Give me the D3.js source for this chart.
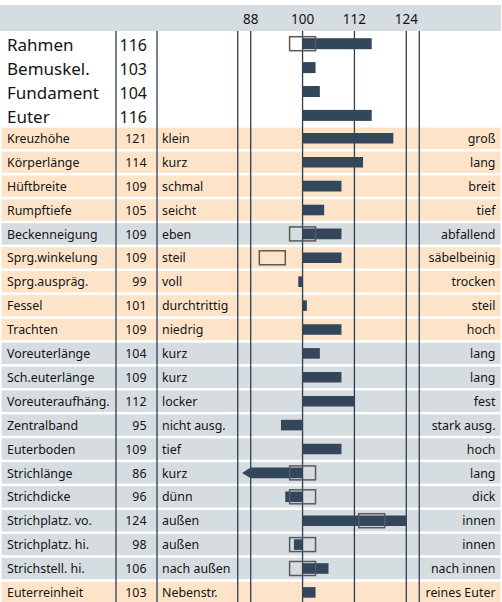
<!DOCTYPE html>
<html>
<head>
<meta charset="utf-8">
<script src="https://cdn.jsdelivr.net/npm/d3@7"></script>
<style>
  html, body { margin: 0; padding: 0; background: #fff; }
  svg { display: block; font-family: "Noto Sans", "Open Sans", sans-serif; }
</style>
</head>
<body>
<svg id="chart" width="502" height="602"></svg>
<script>
// Summary traits (top block)
const topTraits = ["Rahmen", "Bemuskel.", "Fundament", "Euter"];
const topValues = [116, 103, 104, 116];
const topBoxLo = [97, null, null, null];
const topBoxHi = [103, null, null, null];

// Linear type traits
const traits = ["Kreuzhöhe", "Körperlänge", "Hüftbreite", "Rumpftiefe", "Beckenneigung",
  "Sprg.winkelung", "Sprg.auspräg.", "Fessel", "Trachten", "Voreuterlänge", "Sch.euterlänge",
  "Voreuteraufhäng.", "Zentralband", "Euterboden", "Strichlänge", "Strichdicke",
  "Strichplatz. vo.", "Strichplatz. hi.", "Strichstell. hi.", "Euterreinheit"];
const values = [121, 114, 109, 105, 109, 109, 99, 101, 109, 104, 109, 112, 95, 109, 86, 96, 124, 98, 106, 103];
const lowLabels = ["klein", "kurz", "schmal", "seicht", "eben", "steil", "voll", "durchtrittig",
  "niedrig", "kurz", "kurz", "locker", "nicht ausg.", "tief", "kurz", "dünn", "außen", "außen",
  "nach außen", "Nebenstr."];
const highLabels = ["groß", "lang", "breit", "tief", "abfallend", "säbelbeinig", "trocken", "steil",
  "hoch", "lang", "lang", "fest", "stark ausg.", "hoch", "lang", "dick", "innen", "innen",
  "nach innen", "reines Euter"];
const traitGroup = ["body", "body", "body", "body", "udder", "body", "body", "body", "body",
  "udder", "udder", "udder", "udder", "udder", "udder", "udder", "udder", "udder", "udder", "body"];
const boxLo = [null, null, null, null, 97, 90, null, null, null, null, null, null, null, null, 97, 97, 113, 97, 97, null];
const boxHi = [null, null, null, null, 103, 96, null, null, null, null, null, null, null, null, 103, 103, 119, 103, 103, null];

const tickValues = [88, 100, 112, 124];
const domainMin = 85, domainMax = 127;   // edges of the bar column
const base = 100;

const W = 502, H = 602;
const svg = d3.select("#chart");

const x = d3.scaleLinear().domain([88, 124]).range([250.7, 406.3]);
const groupColor = d3.scaleOrdinal().domain(["body", "udder"]).range(["#fde4c9", "#d6dde1"]);

const pitch = 23.9;
const yTop = d3.scaleLinear().domain([0, 1]).range([43.7, 43.7 + pitch]);      // centre of top rows
const yRow = d3.scaleLinear().domain([0, 1]).range([127.6, 127.6 + pitch]);    // top of body rows
const rowH = 21.4;

const barColor = "#34465b";
const lineColor = "#2e3f55";
const textColor = "#141414";

// header band
svg.append("rect").attr("x", 0).attr("y", 5).attr("width", 501).attr("height", 26)
  .attr("fill", "#d6dde1");
svg.append("g").selectAll("text").data(tickValues).join("text")
  .attr("x", d => x(d)).attr("y", 23.5)
  .attr("text-anchor", "middle").attr("font-size", 13.5).attr("fill", textColor)
  .text(d => d);

// row backgrounds
svg.append("g").selectAll("rect").data(traits).join("rect")
  .attr("x", 1.5).attr("y", (d, i) => yRow(i)).attr("width", 499).attr("height", rowH)
  .attr("fill", (d, i) => groupColor(traitGroup[i]));

// column rules
const rules = [116, 157, x(domainMin), x(88), x(100), x(112), x(124), x(domainMax)];
svg.append("g").selectAll("line").data(rules).join("line")
  .attr("x1", d => d).attr("x2", d => d).attr("y1", 31).attr("y2", H)
  .attr("stroke", lineColor).attr("stroke-width", 1.3);

// top block
const topBlock = svg.append("g");
topBlock.selectAll("text.name").data(topTraits).join("text").attr("class", "name")
  .attr("x", 7).attr("y", (d, i) => yTop(i) + 7.3)
  .attr("font-size", 17).attr("fill", textColor).text(d => d);
topBlock.selectAll("text.val").data(topValues).join("text").attr("class", "val")
  .attr("x", 147).attr("y", (d, i) => yTop(i) + 7.3).attr("text-anchor", "end")
  .attr("font-size", 16).attr("fill", textColor).text(d => d);
topBlock.selectAll("rect.bar").data(topValues).join("rect").attr("class", "bar")
  .attr("x", d => x(Math.min(d, base))).attr("width", d => Math.abs(x(d) - x(base)))
  .attr("y", (d, i) => yTop(i) - 5.5).attr("height", 11)
  .attr("fill", barColor);
topBlock.selectAll("rect.box").data(topBoxLo.map((lo, i) => ({ lo, hi: topBoxHi[i], i })).filter(d => d.lo !== null))
  .join("rect").attr("class", "box")
  .attr("x", d => x(d.lo)).attr("width", d => x(d.hi) - x(d.lo))
  .attr("y", d => yTop(d.i) - 7).attr("height", 14)
  .attr("fill", "none").attr("stroke", "#595959").attr("stroke-width", 1.5);

// body rows
const bodyBlock = svg.append("g");
const rowText = (sel, cls, data, xPos, anchor) => sel.selectAll("text." + cls).data(data).join("text")
  .attr("class", cls).attr("x", xPos).attr("y", (d, i) => yRow(i) + 15.3)
  .attr("text-anchor", anchor).attr("font-size", 12.4).attr("fill", textColor).text(d => d);
rowText(bodyBlock, "name", traits, 7, "start");
rowText(bodyBlock, "val", values, 146.5, "end");
rowText(bodyBlock, "low", lowLabels, 162, "start");
rowText(bodyBlock, "high", highLabels, 495.5, "end");

const barH = 10.6;
const clipMin = 88;   // bars below this end in an arrow
bodyBlock.selectAll("path.bar").data(values).join("path").attr("class", "bar")
  .attr("fill", barColor)
  .attr("d", (d, i) => {
    const cy = yRow(i) + rowH / 2;
    const y0 = cy - barH / 2, y1 = cy + barH / 2;
    if (d < clipMin) {
      const xs = x(clipMin), xe = x(base), xt = x(d);
      return `M${xe},${y0}L${xs},${y0}L${xt},${cy}L${xs},${y1}L${xe},${y1}Z`;
    }
    const a = x(Math.min(d, base)), b = x(Math.max(d, base));
    return `M${a},${y0}L${b},${y0}L${b},${y1}L${a},${y1}Z`;
  });

bodyBlock.selectAll("rect.box").data(boxLo.map((lo, i) => ({ lo, hi: boxHi[i], i })).filter(d => d.lo !== null))
  .join("rect").attr("class", "box")
  .attr("x", d => x(d.lo)).attr("width", d => x(d.hi) - x(d.lo))
  .attr("y", d => yRow(d.i) + rowH / 2 - 7).attr("height", 14)
  .attr("fill", "none").attr("stroke", "#595959").attr("stroke-width", 1.5);
</script>
</body>
</html>
